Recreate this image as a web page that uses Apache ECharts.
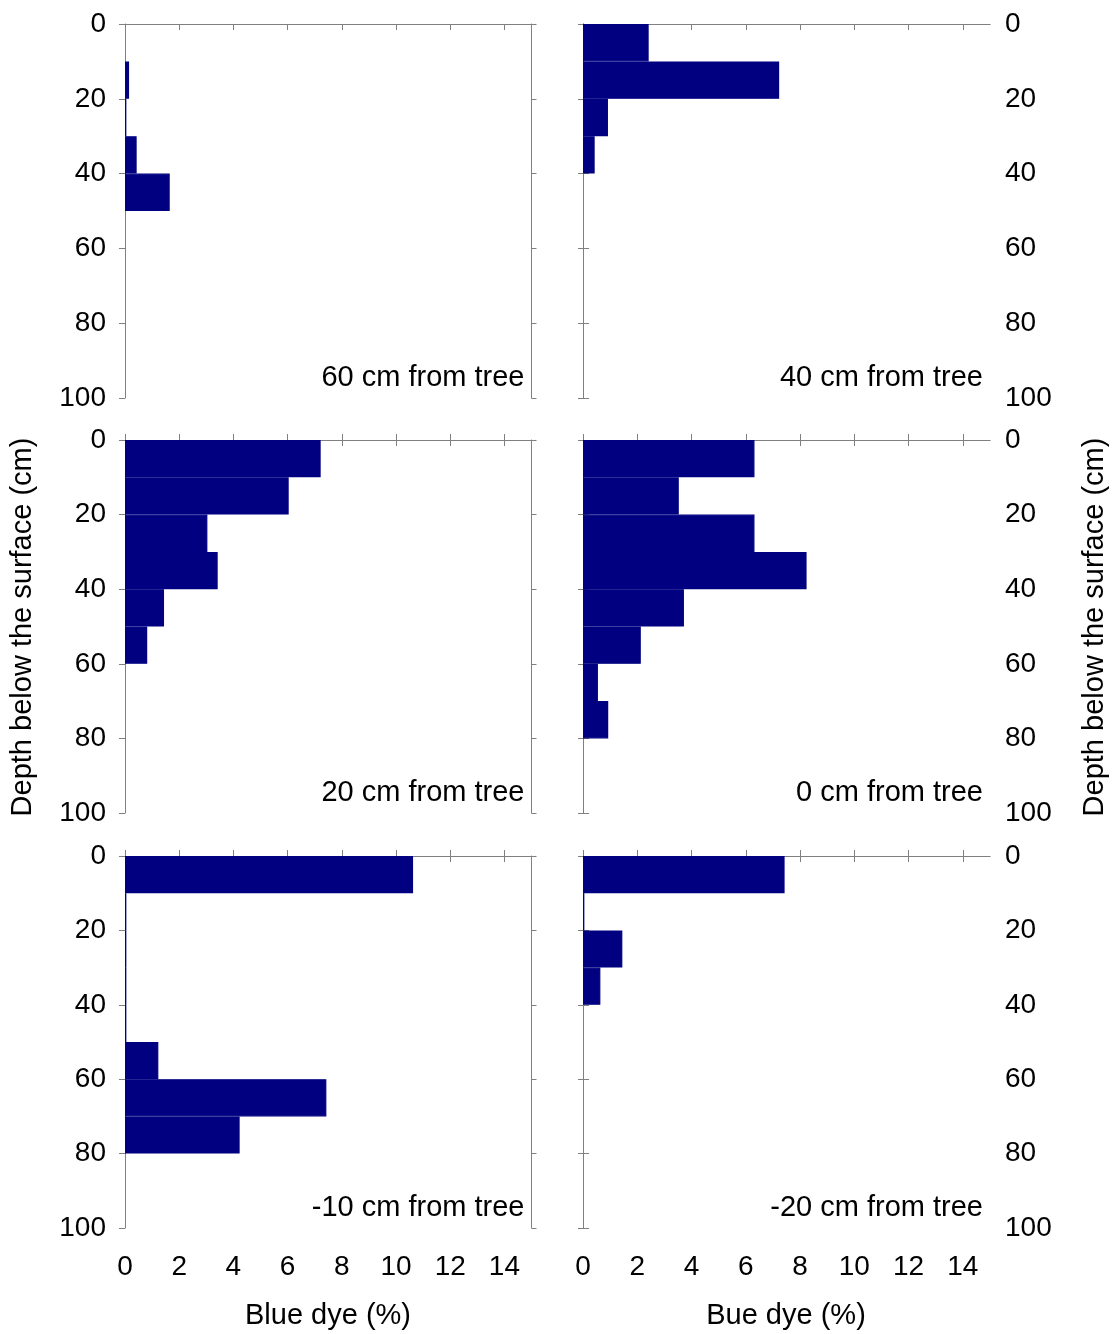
<!DOCTYPE html>
<html>
<head>
<meta charset="utf-8">
<script src="https://cdn.jsdelivr.net/npm/echarts@6/dist/echarts.min.js"></script>
<style>
html,body{margin:0;padding:0;background:#fff;}
#chart{width:1115px;height:1334px;}
</style>
</head>
<body>
<div id="chart"></div>
<script>
// ---- data ----
const depthCats = ['0-10','10-20','20-30','30-40','40-50','50-60','60-70','70-80','80-90','90-100'];
const panelLabels = ['60 cm from tree','40 cm from tree','20 cm from tree','0 cm from tree','-10 cm from tree','-20 cm from tree'];
const dye60  = [0, 0.15, 0.05, 0.43, 1.65, 0, 0, 0, 0, 0];
const dye40  = [2.42, 7.23, 0.92, 0.43, 0, 0, 0, 0, 0, 0];
const dye20  = [7.22, 6.04, 3.04, 3.42, 1.44, 0.82, 0, 0, 0, 0];
const dye0   = [6.32, 3.53, 6.32, 8.24, 3.72, 2.13, 0.55, 0.93, 0, 0];
const dyeM10 = [10.63, 0.05, 0.05, 0.05, 0.05, 1.23, 7.43, 4.23, 0, 0];
const dyeM20 = [7.43, 0.05, 1.45, 0.64, 0, 0, 0, 0, 0, 0];
const xTickValues = [0, 2, 4, 6, 8, 10, 12, 14];
const xNames = ['Blue dye (%)', 'Bue dye (%)'];
const yName = 'Depth below the surface (cm)';

const panelData = [dye60, dye40, dye20, dye0, dyeM10, dyeM20];

// ---- layout ----
const FONT = 'Liberation Sans, Arial, sans-serif';
const AXIS_COLOR = '#808080';
const BAR_COLOR = '#000080';
const colX = [{left: 125, right: 531.5}, {left: 583, right: 990}];
const rowY = [{top: 24, bottom: 398}, {top: 440, bottom: 813}, {top: 856, bottom: 1228}];

const grids = [], xAxes = [], yAxes = [], series = [], graphics = [];

for (let p = 0; p < 6; p++) {
  const col = p % 2, row = Math.floor(p / 2);
  const cx = colX[col], ry = rowY[row];
  grids.push({
    left: cx.left, width: cx.right - cx.left,
    top: ry.top, height: ry.bottom - ry.top,
    containLabel: false
  });
  // bottom x axis
  xAxes.push({
    type: 'value', gridIndex: p, position: 'bottom', min: 0, max: 15,
    axisLine: {show: true, lineStyle: {color: AXIS_COLOR, width: 1}},
    axisTick: {show: true, length: 6, lineStyle: {color: AXIS_COLOR}, customValues: xTickValues},
    axisLabel: {show: row === 2, customValues: xTickValues, color: '#000', fontSize: 28, fontFamily: FONT, margin: 25},
    splitLine: {show: false}
  });
  // top x axis (border)
  xAxes.push({
    type: 'value', gridIndex: p, position: 'top', min: 0, max: 15,
    axisLine: {show: true, lineStyle: {color: AXIS_COLOR, width: 1}},
    axisTick: {show: row > 0, length: 6, lineStyle: {color: AXIS_COLOR}, customValues: xTickValues},
    axisLabel: {show: false},
    splitLine: {show: false}
  });
  // hidden category axis for bars
  yAxes.push({
    type: 'category', gridIndex: p, data: depthCats, inverse: true, show: false
  });
  // main depth axis
  yAxes.push({
    type: 'value', gridIndex: p, position: col === 0 ? 'left' : 'right',
    min: 0, max: 100, interval: 20, inverse: true,
    axisLine: {show: true, lineStyle: {color: AXIS_COLOR, width: 1}},
    axisTick: {show: true, length: 6, lineStyle: {color: AXIS_COLOR}},
    axisLabel: {show: true, color: '#000', fontSize: 28, fontFamily: FONT, margin: col === 0 ? 19 : 15},
    splitLine: {show: false}
  });
  // opposite border axis
  yAxes.push({
    type: 'value', gridIndex: p, position: col === 0 ? 'right' : 'left',
    min: 0, max: 100, interval: 20, inverse: true,
    axisLine: {show: true, lineStyle: {color: AXIS_COLOR, width: 1}},
    axisTick: {show: true, length: 5, lineStyle: {color: AXIS_COLOR}},
    axisLabel: {show: false},
    splitLine: {show: false}
  });
  series.push({
    type: 'bar', xAxisIndex: 2 * p, yAxisIndex: 3 * p,
    // zero = no bar drawn
    data: panelData[p].map(v => (v === 0 ? '-' : v)),
    barCategoryGap: '0%', barGap: '0%',
    itemStyle: {color: BAR_COLOR, borderColor: BAR_COLOR, borderWidth: 1.2},
    silent: true, animation: false, z: 3
  });
  graphics.push({
    type: 'text', right: 1115 - cx.right + 7, top: ry.bottom - 35,
    style: {text: panelLabels[p], fill: '#000', font: '29px ' + FONT}
  });
}

graphics.push({
  type: 'text', x: 328, y: 1316,
  style: {text: xNames[0], fill: '#000', font: '29px ' + FONT, textAlign: 'center', textVerticalAlign: 'middle'}
});
graphics.push({
  type: 'text', x: 786, y: 1316,
  style: {text: xNames[1], fill: '#000', font: '29px ' + FONT, textAlign: 'center', textVerticalAlign: 'middle'}
});
graphics.push({
  type: 'text', x: 23, y: 627, rotation: Math.PI / 2,
  style: {text: yName, fill: '#000', font: '29px ' + FONT, textAlign: 'center', textVerticalAlign: 'middle'}
});
graphics.push({
  type: 'text', x: 1095, y: 627, rotation: Math.PI / 2,
  style: {text: yName, fill: '#000', font: '29px ' + FONT, textAlign: 'center', textVerticalAlign: 'middle'}
});

const chart = echarts.init(document.getElementById('chart'), null, {renderer: 'canvas'});
chart.setOption({
  animation: false,
  backgroundColor: '#fff',
  grid: grids,
  xAxis: xAxes,
  yAxis: yAxes,
  series: series,
  graphic: graphics
});
</script>
</body>
</html>
